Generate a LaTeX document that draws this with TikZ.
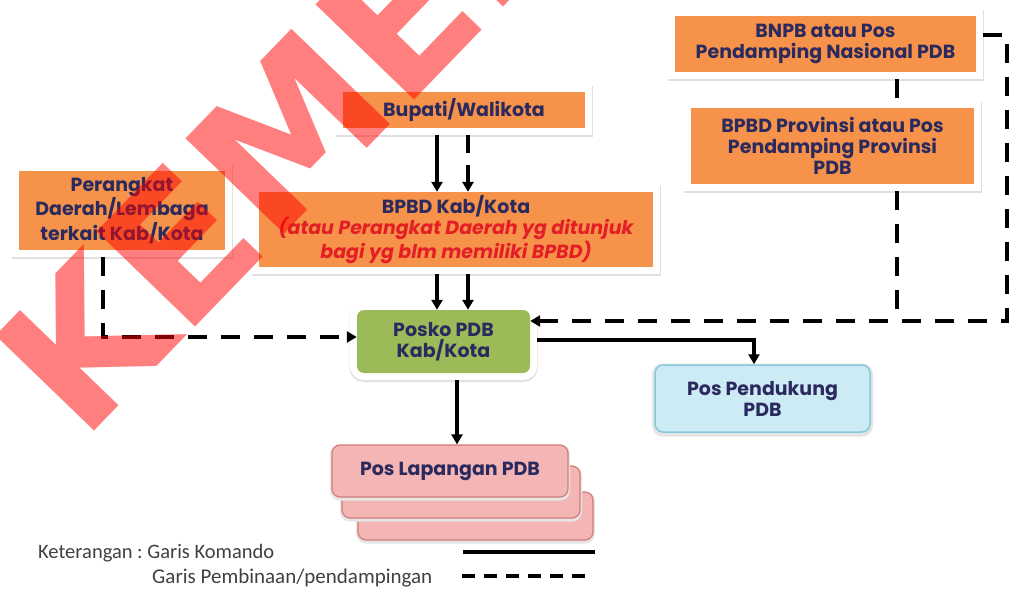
\documentclass[tikz,border=0pt]{standalone}
\usepackage{fontspec}
\setmainfont{Poppins}
\newfontfamily\ketfont{Carlito}
\newfontfamily\capfont{DejaVu Sans}
\usetikzlibrary{arrows.meta}
\definecolor{oranye}{HTML}{F6924A}
\definecolor{hijau}{HTML}{9BBB59}
\definecolor{navy}{HTML}{2B2A5E}
\definecolor{merah}{HTML}{E41E26}
\definecolor{biru}{HTML}{CDEBF4}
\definecolor{birutepi}{HTML}{86C9DC}
\definecolor{pink}{HTML}{F4B5B5}
\definecolor{pinktepi}{HTML}{D27C7C}
\frenchspacing
\begin{document}
\begin{tikzpicture}[x=1pt,y=-1pt,
    every node/.style={text=navy,font=\bfseries\fontsize{19}{21}\selectfont,align=center,inner sep=0pt},
    kotak/.style={rectangle,fill=oranye,
      preaction={draw=black!12,line width=15pt,transform canvas={yshift=-1.5pt}},
      preaction={draw=white,line width=14pt}},
    posko/.style={kotak,fill=hijau,rounded corners=7pt},
    pendukung/.style={rectangle,rounded corners=8pt,fill=biru,draw=birutepi,line width=1.5pt,
      preaction={draw=black!10,line width=6pt,transform canvas={yshift=-1.5pt}}},
    lapangan/.style={rectangle,rounded corners=8pt,fill=pink,draw=pinktepi,line width=1.2pt,
      preaction={draw=black!10,line width=4pt,transform canvas={yshift=-1.5pt}}},
    komando/.style={line width=3.5pt},
    bina/.style={line width=4pt,dash pattern=on 19pt off 14pt},
    panah/.style={-{Triangle[length=10pt,width=11pt]}}]
  \useasboundingbox (0,0) rectangle (1009,607);

  % kotak-kotak
  \node[kotak,minimum width=301,minimum height=56] (bnpb) at (825.5,44) {BNPB atau Pos\\Pendamping Nasional PDB};
  \node[kotak,minimum width=283,minimum height=76] (prov) at (832.5,146) {BPBD Provinsi atau Pos\\Pendamping Provinsi\\PDB};
  \node[kotak,minimum width=242,minimum height=36] (bup) at (464,110) {Bupati/Walikota};
  \node[kotak,minimum width=206,minimum height=79] (per) at (122,210.5) {Perangkat\\Daerah/Lembaga\\terkait Kab/Kota};
  \node[kotak,minimum width=394,minimum height=75] (kab) at (456,229.5)
    {BPBD Kab/Kota\\{\color{merah}\itshape (atau Perangkat Daerah yg ditunjuk}\\{\color{merah}\itshape bagi yg blm memiliki BPBD)}};
  \node[posko,minimum width=173,minimum height=63] (pos) at (443.5,341.5) {Posko PDB\\Kab/Kota};
  \node[pendukung,minimum width=215,minimum height=67] (pend) at (762.5,398.5) {Pos Pendukung\\PDB};
  \node[lapangan,minimum width=235,minimum height=48] (lap3) at (475.5,516) {};
  \node[lapangan,minimum width=238,minimum height=52] (lap2) at (461,492) {};
  \node[lapangan,minimum width=236,minimum height=52] (lap1) at (450,471) {Pos Lapangan PDB};

  % garis komando
  \draw[komando,panah,shorten <=7pt] ([xshift=-27pt]bup.south) -- ([xshift=-27pt]bup.south |- kab.north);
  \draw[komando,panah,shorten <=7pt] ([xshift=-19pt]kab.south) -- ([xshift=-19pt]kab.south |- pos.north);
  \draw[komando,panah,shorten <=7pt] ([xshift=12pt]kab.south) -- ([xshift=12pt]kab.south |- pos.north);
  \draw[komando,panah,shorten <=7pt] ([yshift=1.5pt]pos.east) -| ([xshift=-8.5pt]pend.north);
  \draw[komando,panah,shorten <=7pt] ([xshift=13.5pt]pos.south) -- ([xshift=13.5pt]pos.south |- lap1.north);

  % garis pembinaan
  \coordinate (belok) at (1007,321);
  \draw[line width=4pt,dash pattern=on 18pt off 12pt,panah,shorten <=7pt] ([xshift=4pt]bup.south) -- ([xshift=4pt]bup.south |- kab.north);
  \draw[bina,panah,shorten <=7pt] ([xshift=-19pt]per.south) |- ([yshift=4.5pt]pos.west);
  \draw[bina,shorten <=7pt,shorten >=7pt] ([xshift=71.5pt]bnpb.south) -- ([xshift=71.5pt]bnpb.south |- prov.north);
  \draw[bina,shorten <=7pt] ([xshift=64.5pt]prov.south) -- ([xshift=64.5pt]prov.south |- belok);
  \draw[bina,panah,shorten <=7pt] ([yshift=9pt]bnpb.east) -| (belok) -- ([yshift=20.5pt]pos.east);

  % keterangan
  \node[anchor=west,text=black!75,font=\ketfont\fontsize{20.5}{24}\selectfont] (ket1) at (38,553) {Keterangan : Garis Komando};
  \node[anchor=west,text=black!75,font=\ketfont\fontsize{21}{24}\selectfont] (ket2) at (152,578) {Garis Pembinaan/pendampingan};
  \draw[line width=4pt] (463,552) -- (595,552);
  \draw[line width=3.5pt,dash pattern=on 13pt off 9pt] (462,576) -- (585,576);

  % cap air
  \begin{scope}
    \clip (0,0) rectangle (1009,607);
    \node[rotate=46,anchor=base west,text=red,text opacity=.5,
      font=\capfont\bfseries\fontsize{188}{188}\selectfont] (cap) at (82,444) {KEMEN};
  \end{scope}
\end{tikzpicture}
\end{document}
